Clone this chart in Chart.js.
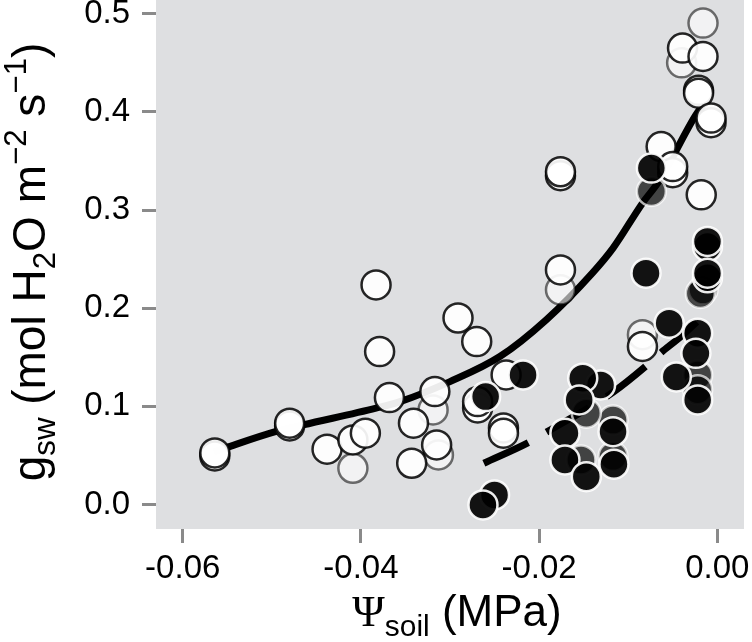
<!DOCTYPE html>
<html lang="en">
<head>
<meta charset="UTF-8" />
<title>gsw vs soil water potential</title>
<script src="https://cdn.jsdelivr.net/npm/chart.js"></script>
<style>
  html, body { margin: 0; padding: 0; background: #fff; }
  #chart { display: block; }
</style>
</head>
<body>
<canvas id="chart" width="752" height="642"></canvas>
<script>
  const FONT = "'Liberation Sans', Arial, sans-serif";

  // open (white) circles
  const openX = [-0.0564, -0.0564, -0.0480, -0.0480, -0.0383, -0.0379, -0.0368, -0.0438, -0.0409, -0.0395,
                 -0.0341, -0.0343, -0.0317, -0.0315, -0.0291, -0.0270, -0.0237, -0.0269, -0.0269, -0.0240,
                 -0.0240, -0.0176, -0.0176, -0.0176, -0.0039, -0.0016, -0.0021, -0.0021, -0.0007, -0.0007,
                 -0.0063, -0.0050, -0.0050, -0.0018, -0.0084];
  const openY = [0.0495, 0.0525, 0.0800, 0.0828, 0.2237, 0.1558, 0.1089, 0.0563, 0.0657, 0.0726,
                 0.0828, 0.0420, 0.1150, 0.0607, 0.1900, 0.1660, 0.1320, 0.0984, 0.1048, 0.0780,
                 0.0726, 0.3350, 0.3390, 0.2390, 0.4650, 0.4565, 0.4220, 0.4190, 0.3890, 0.3937,
                 0.3647, 0.3380, 0.3443, 0.3155, 0.1610];
  // paler open circles
  const openFaintX = [-0.0409, -0.0319, -0.0313, -0.0176, -0.0016, -0.0040, -0.0084];
  const openFaintY = [0.0369, 0.0963, 0.0505, 0.2187, 0.4905, 0.4500, 0.1730];

  // filled (black) circles
  const blackX = [-0.0074, -0.0080, -0.0011, -0.0011, -0.0011, -0.0011, -0.0054, -0.0022, -0.0024, -0.0046,
                  -0.0022, -0.0131, -0.0117, -0.0116, -0.0151, -0.0155, -0.0171, -0.0171, -0.0147, -0.0250,
                  -0.0263, -0.0218, -0.0260];
  const blackY = [0.3427, 0.2357, 0.2628, 0.2680, 0.2310, 0.2357, 0.1847, 0.1745, 0.1540, 0.1300,
                  0.1065, 0.1218, 0.0742, 0.0410, 0.1287, 0.1065, 0.0726, 0.0454, 0.0283, 0.0097,
                  -0.0005, 0.1320, 0.1099];
  // greyish filled circles
  const blackFaintX = [-0.0074, -0.0016, -0.0019, -0.0022, -0.0022, -0.0117, -0.0147, -0.0153, -0.0117];
  const blackFaintY = [0.3190, 0.2187, 0.2150, 0.1320, 0.1170, 0.0860, 0.0930, 0.0454, 0.0490];

  // fitted curves
  const fitSolidX = [-0.0565, -0.0552, -0.0496, -0.0465, -0.0383, -0.0356, -0.0300, -0.0244, -0.0192,
                     -0.0140, -0.0117, -0.0084, -0.0065, -0.0024, -0.0015];
  const fitSolidY = [0.0535, 0.0576, 0.0742, 0.0810, 0.0981, 0.1048, 0.1252, 0.1507, 0.1881,
                     0.2360, 0.2612, 0.3070, 0.3300, 0.3970, 0.4080];
  const fitDashX = [-0.0262, -0.0212, -0.0193, -0.0116, -0.0080, -0.0064, -0.0041, -0.0023];
  const fitDashY = [0.042, 0.063, 0.073, 0.115, 0.141, 0.154, 0.171, 0.186];

  const xTicks = [-0.06, -0.04, -0.02, 0];
  const yTicks = [0, 0.1, 0.2, 0.3, 0.4, 0.5];

  const zip = (xs, ys) => xs.map((x, i) => ({ x, y: ys[i] }));

  const panelBg = {
    id: 'panelBg',
    beforeDraw(chart) {
      const { ctx, chartArea: a } = chart;
      ctx.save();
      ctx.fillStyle = '#dedfe1';
      ctx.fillRect(a.left, a.top, a.right - a.left, a.bottom - a.top);
      ctx.restore();
    }
  };

  // text with sub/superscripts, centred on cx
  function drawRich(ctx, parts, size, cx, baseline) {
    let w = 0;
    const m = parts.map(p => {
      const s = p.script ? size * 0.68 : size;
      ctx.font = `${s}px ${p.family || FONT}`;
      const pw = ctx.measureText(p.text).width;
      w += pw;
      return { p, s, pw };
    });
    let x = cx - w / 2;
    m.forEach(({ p, s, pw }) => {
      ctx.font = `${s}px ${p.family || FONT}`;
      const dy = p.script === 'sub' ? size * 0.22 : p.script === 'sup' ? -size * 0.42 : 0;
      ctx.fillText(p.text, x, baseline + dy);
      x += pw;
    });
  }

  const axisTitles = {
    id: 'axisTitles',
    afterDraw(chart) {
      const { ctx, chartArea: a } = chart;
      ctx.save();
      ctx.fillStyle = '#000';
      ctx.textAlign = 'left';
      ctx.textBaseline = 'alphabetic';
      drawRich(ctx, [
        { text: 'Ψ', family: "'Liberation Serif', 'Times New Roman', serif" },
        { text: 'soil', script: 'sub' },
        { text: ' (MPa)' }
      ], 44, (a.left + a.right) / 2 + 7, 626);

      ctx.translate(45, 262);
      ctx.rotate(-Math.PI / 2);
      drawRich(ctx, [
        { text: 'g' }, { text: 'sw', script: 'sub' },
        { text: ' (mol H' }, { text: '2', script: 'sub' },
        { text: 'O m' }, { text: '−2', script: 'sup' },
        { text: ' s' }, { text: '−1', script: 'sup' },
        { text: ')' }
      ], 46, 0, 0);
      ctx.restore();
    }
  };

  const gridOpts = { drawOnChartArea: false, tickLength: 14, tickColor: '#8a8a8a', tickWidth: 3 };

  new Chart(document.getElementById('chart'), {
    type: 'scatter',
    data: {
      datasets: [
        { data: zip(blackX, blackY), order: 0, pointRadius: 14.5, borderWidth: 2.5,
          backgroundColor: 'rgba(0,0,0,0.92)', borderColor: 'rgba(255,255,255,0.92)' },
        { data: zip(blackFaintX, blackFaintY), order: 1, pointRadius: 14.5, borderWidth: 2.5,
          backgroundColor: 'rgba(0,0,0,0.7)', borderColor: 'rgba(255,255,255,0.7)' },
        { data: zip(openX, openY), order: 2, pointRadius: 14.5, borderWidth: 2.5,
          backgroundColor: 'rgba(255,255,255,0.92)', borderColor: 'rgba(0,0,0,0.85)' },
        { data: zip(openFaintX, openFaintY), order: 3, pointRadius: 14.5, borderWidth: 2.5,
          backgroundColor: 'rgba(255,255,255,0.6)', borderColor: 'rgba(0,0,0,0.55)' },
        { data: zip(fitSolidX, fitSolidY), order: 4, showLine: true, pointRadius: 0,
          borderColor: '#000', borderWidth: 7, cubicInterpolationMode: 'monotone' },
        { data: zip(fitDashX, fitDashY), order: 5, showLine: true, pointRadius: 0,
          borderColor: '#000', borderWidth: 7, borderDash: [49, 21], cubicInterpolationMode: 'monotone' }
      ]
    },
    options: {
      responsive: false,
      animation: false,
      devicePixelRatio: 1,
      clip: false,
      layout: { autoPadding: false, padding: { top: 0, right: 8, bottom: 0, left: 0 } },
      plugins: { legend: { display: false }, tooltip: { enabled: false } },
      scales: {
        x: {
          type: 'linear', min: -0.063, max: 0.003,
          afterBuildTicks: s => { s.ticks = xTicks.map(v => ({ value: v })); },
          afterFit: s => { s.height = 113; s.paddingLeft = 0; s.paddingRight = 0; },
          grid: gridOpts,
          border: { display: false },
          ticks: { font: { family: FONT, size: 33 }, color: '#000', padding: 6, maxRotation: 0,
                   autoSkip: false, callback: v => v.toFixed(2) }
        },
        y: {
          type: 'linear', min: -0.025, max: 0.514,
          afterBuildTicks: s => { s.ticks = yTicks.map(v => ({ value: v })); },
          afterFit: s => { s.width = 156; s.paddingTop = 0; s.paddingBottom = 0; },
          grid: gridOpts,
          border: { display: false },
          // tiny lineHeight keeps the top label from pushing the plot area down
          ticks: { font: { family: FONT, size: 33, lineHeight: 0.01 }, color: '#000', padding: 12,
                   autoSkip: false, callback: v => v.toFixed(1) }
        }
      }
    },
    plugins: [panelBg, axisTitles]
  });
</script>
</body>
</html>
